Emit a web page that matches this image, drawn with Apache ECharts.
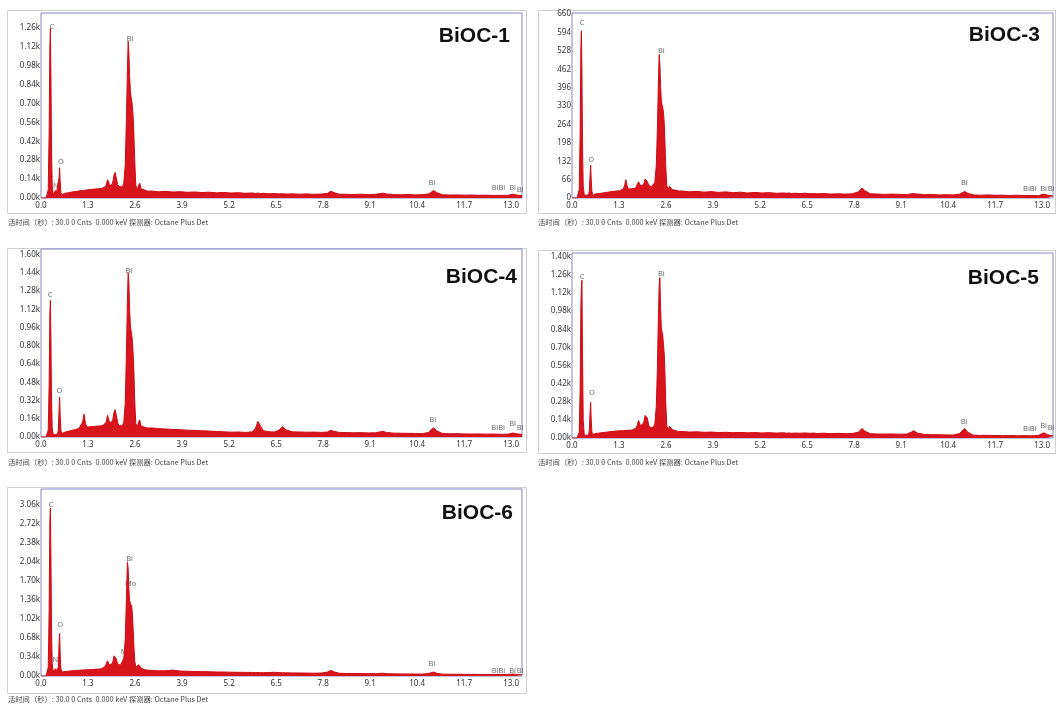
<!DOCTYPE html>
<html>
<head>
<meta charset="utf-8">
<title>BiOC EDS</title>
<script src="https://cdn.jsdelivr.net/npm/echarts@6/dist/echarts.min.js"></script>
<style>
  html, body { margin: 0; padding: 0; background: #fff; }
  #main { width: 1056px; height: 704px; }
</style>
</head>
<body>
<div id="main"></div>
<script>
// shared energy grid (keV), dense around the low-energy peaks
const energyKeV = [
  0.00, 0.14, 0.18, 0.20, 0.225, 0.245, 0.26, 0.275, 0.29, 0.31, 0.34, 0.37, 0.40, 0.43, 0.46, 0.48, 0.50, 0.515, 0.53, 0.55, 0.58, 0.62,
  0.66, 0.70, 0.75, 0.80, 0.85, 0.90, 0.95, 1.00, 1.05, 1.10, 1.15, 1.19, 1.23, 1.27, 1.32, 1.37, 1.42, 1.46, 1.49, 1.52,
  1.56, 1.61, 1.66, 1.71, 1.76, 1.80, 1.84, 1.87, 1.90, 1.94, 1.98, 2.02, 2.05, 2.08, 2.12, 2.16, 2.20, 2.25, 2.29, 2.33,
  2.36, 2.39, 2.41, 2.43, 2.45, 2.47, 2.49, 2.51, 2.53, 2.55, 2.57, 2.59, 2.62, 2.66, 2.70, 2.73, 2.77, 2.82, 2.88, 2.95,
  3.05, 3.25, 3.45, 3.65, 3.85, 4.05, 4.25, 4.45, 4.65, 4.85, 5.05, 5.25, 5.45, 5.65, 5.85, 5.93, 6.00, 6.07, 6.15, 6.30,
  6.45, 6.58, 6.68, 6.78, 6.95, 7.15, 7.35, 7.55, 7.75, 7.92, 8.02, 8.10, 8.25, 8.45, 8.65, 8.85, 9.05, 9.25, 9.38, 9.45,
  9.55, 9.75, 9.95, 10.15, 10.35, 10.55, 10.72, 10.80, 10.86, 10.94, 11.10, 11.30, 11.50, 11.70, 11.90, 12.10, 12.30, 12.50, 12.70, 12.90,
  12.98, 13.05, 13.15, 13.30
];

// counts per sample, same order as energyKeV
const countsBiOC1 = [
  0, 0, 5, 60, 480, 1120, 1255, 900, 380, 90, 25, 30, 55, 40, 30, 45, 150, 225, 120, 40, 25, 30,
  35, 42, 38, 47, 44, 52, 48, 55, 52, 60, 56, 62, 58, 66, 62, 68, 64, 70, 66, 72,
  68, 74, 70, 76, 80, 95, 135, 120, 88, 85, 110, 170, 190, 150, 100, 85, 78, 82, 110, 250,
  560, 950, 1160, 1080, 900, 800, 750, 720, 670, 590, 460, 290, 95, 62, 95, 110, 68, 56, 58, 50,
  52, 46, 49, 44, 47, 42, 45, 40, 43, 38, 41, 37, 39, 35, 37, 34, 36, 33, 35, 31,
  33, 30, 32, 29, 31, 28, 30, 27, 29, 34, 50, 40, 28, 27, 26, 28, 25, 27, 33, 36,
  30, 25, 24, 26, 23, 25, 30, 45, 55, 40, 24, 22, 23, 21, 22, 20, 21, 19, 20, 19,
  24, 28, 22, 17
];
const countsBiOC3 = [
  0, 0, 3, 30, 230, 540, 600, 450, 190, 45, 10, 8, 10, 9, 12, 25, 80, 118, 70, 22, 10, 14,
  15, 18, 16, 20, 18, 22, 20, 24, 22, 26, 24, 27, 25, 28, 26, 30, 32, 48, 66, 45,
  32, 30, 33, 31, 36, 42, 58, 62, 44, 38, 48, 68, 75, 60, 46, 42, 40, 44, 56, 115,
  240, 420, 515, 480, 400, 350, 335, 325, 305, 270, 200, 120, 45, 32, 42, 48, 30, 26, 28, 25,
  25, 22, 24, 21, 23, 20, 22, 19, 21, 18, 20, 18, 19, 17, 18, 17, 18, 16, 17, 16,
  17, 15, 16, 15, 16, 14, 15, 14, 15, 22, 36, 26, 15, 14, 13, 14, 13, 12, 15, 16,
  14, 12, 13, 11, 12, 11, 14, 20, 23, 17, 11, 10, 11, 10, 10, 9, 10, 9, 9, 8,
  12, 14, 10, 7
];
const countsBiOC4 = [
  0, 0, 5, 60, 460, 1080, 1200, 860, 350, 80, 20, 18, 22, 20, 28, 60, 240, 350, 190, 55, 30, 35,
  42, 55, 50, 62, 58, 70, 66, 78, 75, 85, 130, 200, 120, 88, 95, 90, 98, 92, 100, 95,
  102, 96, 104, 100, 110, 130, 190, 196, 125, 110, 140, 220, 240, 195, 125, 100, 95, 100, 130, 300,
  700, 1200, 1440, 1360, 1120, 980, 930, 900, 830, 720, 560, 330, 120, 90, 130, 150, 95, 82, 85, 78,
  80, 74, 70, 66, 64, 60, 58, 54, 52, 48, 46, 42, 44, 40, 46, 75, 137, 95, 55, 46,
  44, 60, 90, 62, 45, 44, 42, 43, 40, 44, 60, 50, 40, 39, 37, 38, 36, 37, 45, 50,
  40, 34, 33, 32, 31, 30, 40, 68, 80, 55, 30, 28, 29, 27, 26, 27, 25, 26, 24, 24,
  30, 35, 28, 22
];
const countsBiOC5 = [
  0, 0, 4, 45, 380, 1000, 1180, 1220, 650, 140, 22, 18, 20, 18, 25, 60, 200, 275, 150, 45, 28, 32,
  35, 40, 38, 44, 42, 48, 45, 52, 49, 55, 52, 57, 54, 58, 56, 60, 57, 62, 59, 63,
  60, 64, 61, 68, 75, 95, 135, 140, 95, 90, 115, 175, 190, 155, 100, 82, 77, 82, 110, 240,
  520, 950, 1180, 1240, 1000, 850, 820, 790, 720, 650, 500, 290, 95, 65, 90, 100, 65, 52, 55, 50,
  50, 46, 48, 44, 46, 42, 44, 41, 43, 40, 42, 39, 41, 38, 40, 37, 39, 36, 38, 37,
  39, 36, 38, 35, 37, 34, 36, 33, 35, 45, 74, 52, 33, 31, 30, 31, 29, 30, 45, 56,
  38, 27, 26, 25, 24, 23, 35, 60, 72, 45, 22, 20, 21, 19, 18, 19, 17, 18, 17, 20,
  32, 40, 25, 15
];
const countsBiOC6 = [
  0, 0, 10, 150, 1150, 2750, 3000, 2150, 850, 220, 70, 90, 130, 90, 80, 160, 580, 760, 420, 130, 70, 75,
  80, 90, 86, 95, 92, 100, 97, 105, 102, 110, 106, 113, 110, 117, 113, 120, 116, 124, 120, 127,
  123, 130, 127, 140, 160, 210, 270, 280, 190, 160, 230, 360, 390, 310, 210, 190, 195, 230, 320, 650,
  1350, 2040, 1920, 1550, 1350, 1300, 1280, 1240, 1080, 800, 520, 280, 160, 140, 200, 220, 140, 115, 110, 105,
  100, 92, 95, 105, 88, 84, 80, 78, 76, 72, 71, 68, 66, 64, 63, 62, 61, 60, 60, 62,
  66, 60, 58, 56, 55, 54, 52, 50, 52, 70, 100, 75, 48, 46, 44, 43, 42, 41, 48, 50,
  40, 38, 37, 36, 35, 34, 45, 62, 70, 48, 33, 32, 31, 30, 30, 29, 28, 28, 27, 28,
  32, 35, 28, 22
];

// element markers: [keV, counts, text]
const peaksBiOC1 = [[0.30, 1270, 'C'], [2.46, 1180, 'Bi'], [0.55, 270, 'O'], [0.41, 90, 'N'],
  [10.81, 113, 'Bi'], [12.65, 72, 'BiBi'], [13.04, 76, 'Bi'], [13.25, 60, 'Bi']];
const peaksBiOC3 = [[0.28, 628, 'C'], [2.47, 529, 'Bi'], [0.53, 137, 'O'],
  [10.85, 54, 'Bi'], [12.66, 33, 'BiBi'], [13.04, 33, 'Bi'], [13.25, 33, 'Bi']];
const peaksBiOC4 = [[0.25, 1247, 'C'], [2.43, 1457, 'Bi'], [0.51, 408, 'O'],
  [10.83, 152, 'Bi'], [12.64, 84, 'BiBi'], [13.04, 114, 'Bi'], [13.25, 80, 'Bi']];
const peaksBiOC5 = [[0.28, 1246, 'C'], [2.47, 1272, 'Bi'], [0.55, 347, 'O'],
  [10.84, 128, 'Bi'], [12.66, 72, 'BiBi'], [13.04, 90, 'Bi'], [13.25, 80, 'Bi']];
const peaksBiOC6 = [[0.28, 3060, 'C'], [2.45, 2100, 'Bi'], [2.48, 1640, 'Mo'], [0.53, 905, 'O'],
  [0.40, 280, 'N'], [2.36, 430, 'Mo'], [10.81, 220, 'Bi'], [12.65, 100, 'BiBi'], [13.04, 100, 'Bi'], [13.25, 100, 'Bi']];

const sampleNames = ['BiOC-1', 'BiOC-3', 'BiOC-4', 'BiOC-5', 'BiOC-6'];
const yAxisMax = [1370, 664, 1650, 1430, 3340];
const yAxisStep = [140, 66, 160, 140, 340];
const yInKilo = [true, false, true, true, true];
const xAxisMax = 13.3;
const xAxisStep = 1.3;
const footerText = '活时间（秒）: 30.0 0 Cnts  0.000 keV 探测器: Octane Plus Det';

const allCounts = [countsBiOC1, countsBiOC3, countsBiOC4, countsBiOC5, countsBiOC6];
const allPeaks = [peaksBiOC1, peaksBiOC3, peaksBiOC4, peaksBiOC5, peaksBiOC6];

// layout of the five panels (pixels)
const layout = [
  { grid: [41, 13, 481, 185], frame: [7, 10, 519, 203], foot: [8, 222], title: [510, 36] },
  { grid: [572, 13, 481, 185], frame: [538, 10, 517, 203], foot: [538, 222], title: [1040, 35] },
  { grid: [41, 249, 481, 188], frame: [7, 248, 519, 204], foot: [8, 462], title: [517, 277] },
  { grid: [572, 253, 481, 185], frame: [538, 250, 517, 203], foot: [538, 462], title: [1039, 278] },
  { grid: [41, 489, 481, 187], frame: [7, 487, 519, 206], foot: [8, 699], title: [513, 513] }
];

function isStep(v, step) {
  let r = v / step;
  return Math.abs(r - Math.round(r)) < 1e-6;
}

let myChart = echarts.init(document.getElementById('main'));
let grids = [], xAxes = [], yAxes = [], series = [], graphics = [];

layout.forEach(function (p, i) {
  grids.push({
    left: p.grid[0], top: p.grid[1], width: p.grid[2], height: p.grid[3],
    show: true, borderColor: '#8585c6', borderWidth: 1, backgroundColor: '#fff'
  });
  xAxes.push({
    gridIndex: i, type: 'value', min: 0, max: xAxisMax, interval: xAxisStep,
    axisLine: { show: false }, axisTick: { show: false }, splitLine: { show: false },
    axisLabel: {
      fontSize: 8, color: '#333', margin: 4, fontFamily: 'Noto Sans',
      formatter: function (v) { return isStep(v, xAxisStep) ? v.toFixed(1) : ''; }
    }
  });
  let step = yAxisStep[i];
  let kilo = yInKilo[i];
  yAxes.push({
    gridIndex: i, type: 'value', min: 0, max: yAxisMax[i], interval: step,
    axisLine: { show: false }, axisTick: { show: false }, splitLine: { show: false },
    axisLabel: {
      fontSize: 8, color: '#333', margin: 1, fontFamily: 'Noto Sans',
      formatter: function (v) {
        if (!isStep(v, step)) return '';
        return kilo ? (v / 1000).toFixed(2) + 'k' : String(Math.round(v));
      }
    }
  });
  series.push({
    type: 'line', xAxisIndex: i, yAxisIndex: i, silent: true,
    symbol: 'none',
    data: energyKeV.map(function (e, k) { return [e, allCounts[i][k]]; }),
    lineStyle: { color: '#cf0b14', width: 1 },
    areaStyle: { color: '#d8141c', opacity: 1 }
  });
  series.push({
    type: 'scatter', xAxisIndex: i, yAxisIndex: i, silent: true,
    symbolSize: 1, itemStyle: { color: 'rgba(0,0,0,0)' },
    data: allPeaks[i].map(function (d) { return { value: [d[0], d[1]], name: d[2] }; }),
    label: { show: true, position: 'inside', formatter: '{b}', fontSize: 7.5, color: '#444', fontFamily: 'Noto Sans' }
  });
  graphics.push({
    type: 'rect', silent: true, z: -1,
    shape: { x: p.frame[0] + 0.5, y: p.frame[1] + 0.5, width: p.frame[2], height: p.frame[3] },
    style: { fill: 'none', stroke: '#cfcfcf', lineWidth: 1 }
  });
  graphics.push({
    type: 'text', silent: true, x: p.foot[0], y: p.foot[1],
    style: {
      text: footerText, fill: '#444', textVerticalAlign: 'middle',
      font: '7.3px "Noto Sans CJK SC", "Noto Sans", sans-serif'
    }
  });
  graphics.push({
    type: 'text', silent: true, x: p.title[0], y: p.title[1], z: 10,
    style: {
      text: sampleNames[i], fill: '#111', textAlign: 'right', textVerticalAlign: 'middle',
      font: 'bold 21px "Liberation Sans", Arial, sans-serif'
    }
  });
});

let option = {
  animation: false,
  grid: grids,
  xAxis: xAxes,
  yAxis: yAxes,
  series: series,
  graphic: graphics
};
myChart.setOption(option);
</script>
</body>
</html>
